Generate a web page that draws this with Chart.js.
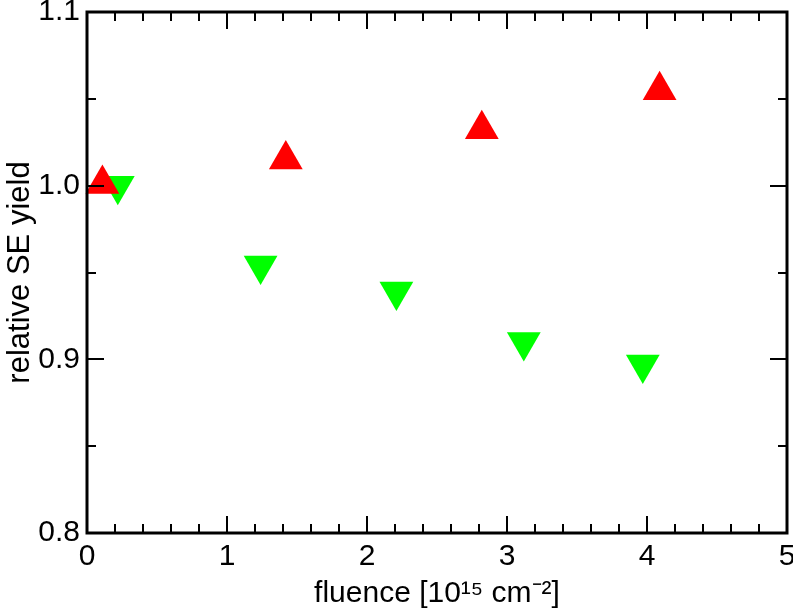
<!DOCTYPE html>
<html>
<head>
<meta charset="utf-8">
<script src="https://cdn.jsdelivr.net/npm/chart.js@4/dist/chart.umd.min.js"></script>
<style>
  html, body { margin: 0; padding: 0; background: #fff; }
  #wrap { width: 793px; height: 612px; }
</style>
</head>
<body>
<div id="wrap"><canvas id="chart"></canvas></div>
<script>
const FONT = "'Liberation Sans', Arial, sans-serif";

// increasing yield (red, up triangles)
const redX = [0.11, 1.42, 2.82, 4.09];
const redY = [1.001, 1.015, 1.0325, 1.055];

// decreasing yield (green, down triangles)
const greenX = [0.22, 1.24, 2.21, 3.12, 3.97];
const greenY = [1.000, 0.954, 0.939, 0.910, 0.897];

const xTicks = [0, 1, 2, 3, 4, 5];
const yTicks = [0.8, 0.9, 1.0, 1.1];
const xMinorStep = 0.2;
const yMinorStep = 0.05;

const toPts = (xs, ys) => xs.map((x, i) => ({ x: x, y: ys[i] }));

// box frame with inward ticks on all four sides
const frame = {
    id: 'frame',
    afterDraw(chart) {
        const { ctx, chartArea: a, scales } = chart;
        const xs = scales.x, ys = scales.y;
        ctx.save();
        ctx.strokeStyle = '#000';
        ctx.lineCap = 'butt';

        ctx.lineWidth = 2;
        const xmin = xTicks[0], xmax = xTicks[xTicks.length - 1];
        const nx = Math.round((xmax - xmin) / xMinorStep);
        for (let i = 1; i < nx; i++) {
            const v = xmin + i * xMinorStep;
            const major = Math.abs(v - Math.round(v)) < 1e-6;
            const len = major ? 17 : 9;
            const px = Math.round(xs.getPixelForValue(v));
            ctx.beginPath();
            ctx.moveTo(px, a.bottom); ctx.lineTo(px, a.bottom - len);
            ctx.moveTo(px, a.top); ctx.lineTo(px, a.top + len);
            ctx.stroke();
        }
        const ymin = yTicks[0], ymax = yTicks[yTicks.length - 1];
        const ny = Math.round((ymax - ymin) / yMinorStep);
        for (let i = 1; i < ny; i++) {
            const v = ymin + i * yMinorStep;
            const major = i % 2 === 0;
            const len = major ? 17 : 9;
            const py = Math.round(ys.getPixelForValue(v));
            ctx.beginPath();
            ctx.moveTo(a.left, py); ctx.lineTo(a.left + len, py);
            ctx.moveTo(a.right, py); ctx.lineTo(a.right - len, py);
            ctx.stroke();
        }

        ctx.lineWidth = 3;
        ctx.strokeRect(a.left, a.top, a.right - a.left, a.bottom - a.top);
        ctx.restore();
    }
};

new Chart(document.getElementById('chart'), {
    type: 'scatter',
    data: {
        datasets: [{
            label: 'up',
            data: toPts(redX, redY),
            pointStyle: 'triangle',
            pointRadius: 19.5,
            pointHoverRadius: 19.5,
            backgroundColor: '#ff0000',
            borderWidth: 0
        }, {
            label: 'down',
            data: toPts(greenX, greenY),
            pointStyle: 'triangle',
            rotation: 180,
            pointRadius: 19.5,
            pointHoverRadius: 19.5,
            backgroundColor: '#00ff00',
            borderWidth: 0
        }]
    },
    options: {
        responsive: true,
        maintainAspectRatio: false,
        animation: false,
        clip: false,
        layout: { autoPadding: false, padding: { left: 0, right: 6, top: 12, bottom: 0 } },
        plugins: {
            legend: { display: false },
            tooltip: { enabled: false }
        },
        scales: {
            x: {
                type: 'linear',
                min: xTicks[0],
                max: xTicks[xTicks.length - 1],
                grid: { display: false, drawTicks: false },
                border: { display: false },
                afterBuildTicks: (s) => { s.ticks = xTicks.map(v => ({ value: v })); },
                afterFit: (s) => { s.height = 79; s.paddingLeft = 0; s.paddingRight = 0; },
                ticks: {
                    color: '#000',
                    padding: 6,
                    maxRotation: 0,
                    font: { family: FONT, size: 30 },
                    callback: v => String(v)
                },
                title: {
                    display: true,
                    text: 'fluence [10¹⁵ cm⁻²]',
                    color: '#000',
                    padding: { top: 0, bottom: 0 },
                    font: { family: FONT, size: 30 }
                }
            },
            y: {
                type: 'linear',
                min: yTicks[0],
                max: yTicks[yTicks.length - 1],
                grid: { display: false, drawTicks: false },
                border: { display: false },
                afterBuildTicks: (s) => { s.ticks = yTicks.map(v => ({ value: v })); },
                afterFit: (s) => { s.width = 87; s.paddingTop = 0; s.paddingBottom = 0; },
                ticks: {
                    color: '#000',
                    padding: 7,
                    font: { family: FONT, size: 30 },
                    callback: v => Number(v).toFixed(1)
                },
                title: {
                    display: true,
                    text: 'relative SE yield',
                    color: '#000',
                    padding: { top: 2, bottom: 0 },
                    font: { family: FONT, size: 31 }
                }
            }
        }
    },
    plugins: [frame]
});
</script>
</body>
</html>
